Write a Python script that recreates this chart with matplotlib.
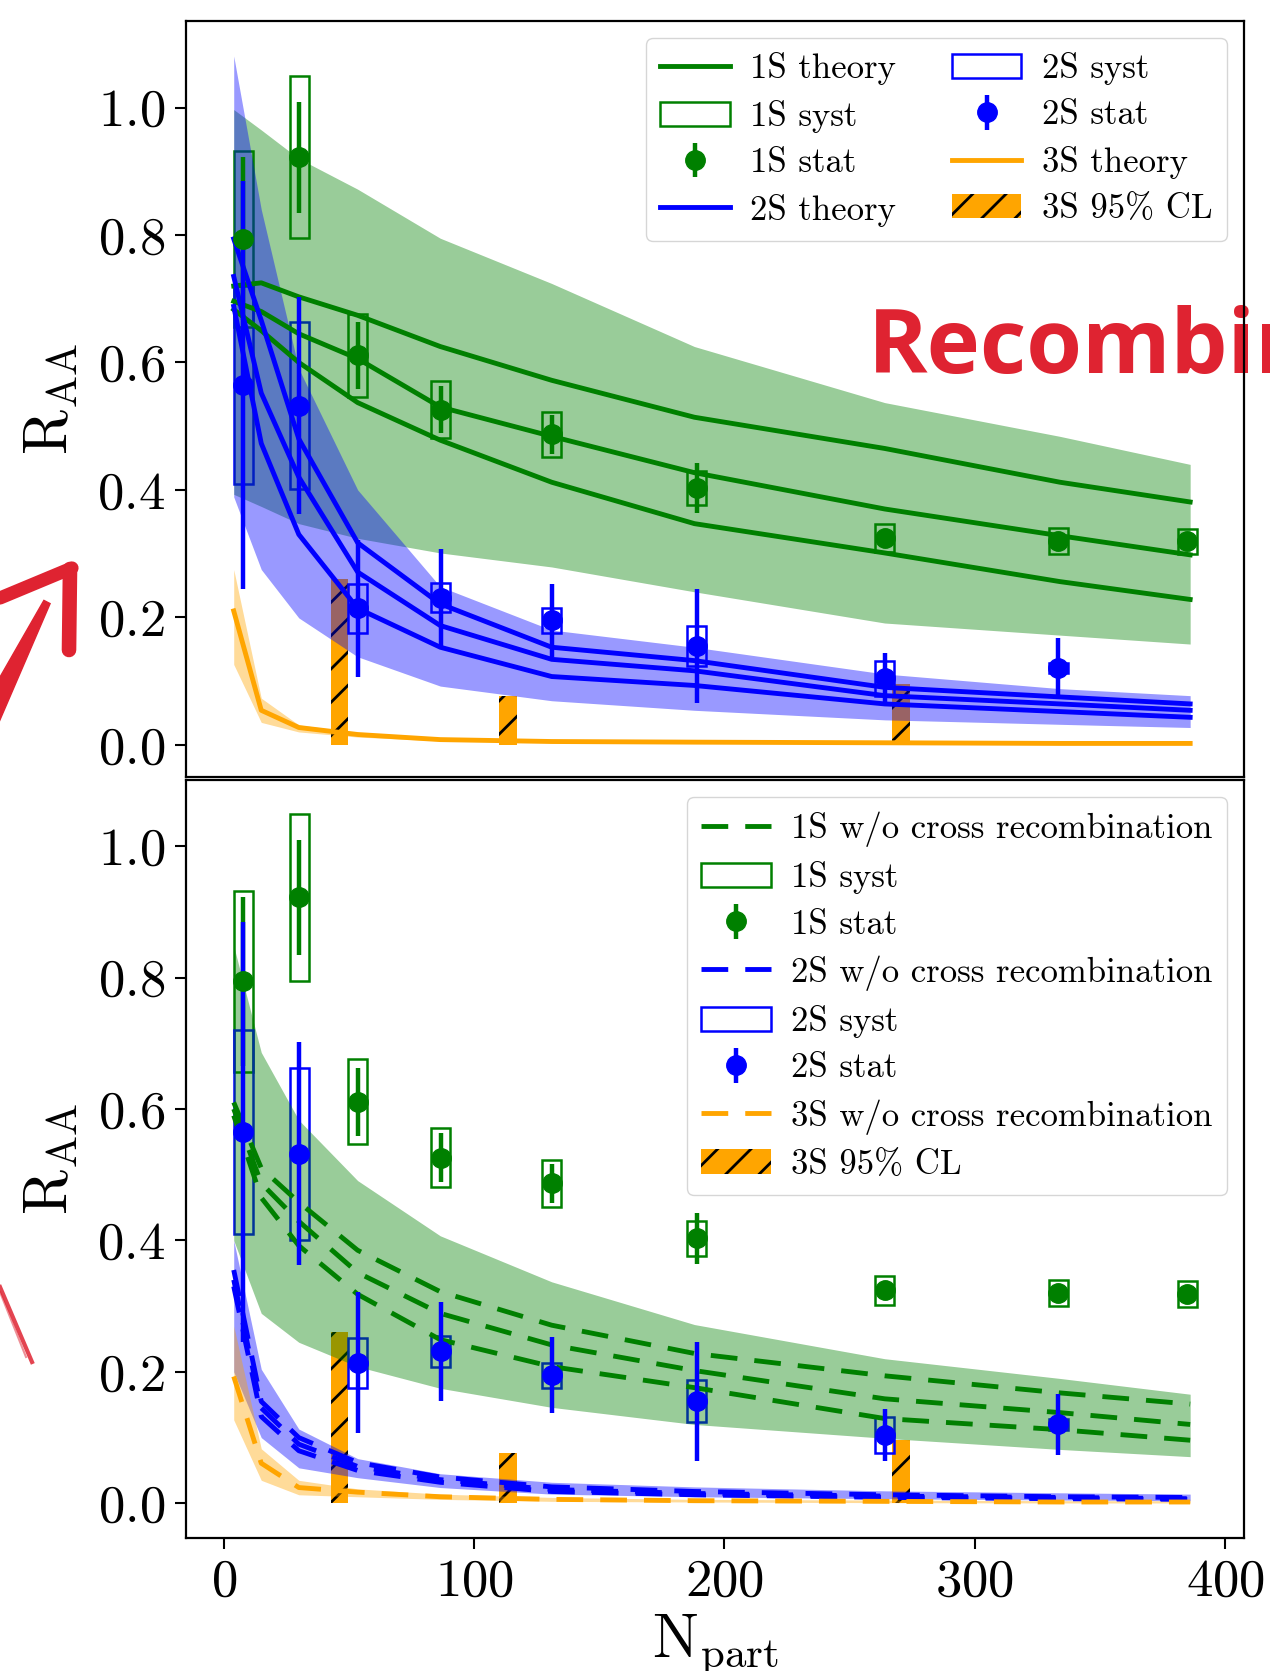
import matplotlib
matplotlib.use('Agg')
import matplotlib.pyplot as plt
from matplotlib.lines import Line2D
from matplotlib.patches import Polygon

plt.rcParams['font.family'] = 'cmr10'
plt.rcParams['mathtext.fontset'] = 'cm'
plt.rcParams['axes.formatter.use_mathtext'] = True
plt.rcParams['hatch.linewidth'] = 2.0

# measured points
npart_1s = [7.8, 30.2, 53.5, 86.7, 131.0, 189.0, 264.1, 333.4, 384.8]
raa_1s = [0.794, 0.922, 0.611, 0.526, 0.487, 0.403, 0.324, 0.320, 0.319]
stat_1s = [0.128, 0.087, 0.052, 0.037, 0.030, 0.039, 0.015, 0.012, 0.012]
syst_1s = [0.138, 0.127, 0.065, 0.045, 0.036, 0.027, 0.022, 0.020, 0.020]

npart_2s = [7.8, 30.2, 53.5, 86.7, 131.0, 189.0, 264.1, 333.4]
raa_2s = [0.565, 0.532, 0.214, 0.231, 0.195, 0.155, 0.104, 0.120]
stat_2s = [0.32, 0.17, 0.107, 0.076, 0.058, 0.09, 0.04, 0.047]
syst_2s = [0.155, 0.131, 0.038, 0.023, 0.019, 0.032, 0.027, 0.008]

npart_3s = [46.2, 113.5, 270.6]
cl_3s = [0.26, 0.077, 0.096]

# theory grid
npart_th = [4, 15, 30, 53.5, 86.5, 131, 188, 264, 334, 386]

# top panel: with cross recombination
th1s_a = [0.720, 0.725, 0.703, 0.674, 0.625, 0.572, 0.514, 0.465, 0.412, 0.381]
th1s_b = [0.696, 0.680, 0.645, 0.606, 0.530, 0.484, 0.427, 0.370, 0.328, 0.298]
th1s_c = [0.683, 0.650, 0.600, 0.537, 0.478, 0.412, 0.347, 0.301, 0.256, 0.228]
band1s_hi = [0.997, 0.965, 0.920, 0.872, 0.795, 0.724, 0.625, 0.537, 0.484, 0.440]
band1s_lo = [0.393, 0.374, 0.347, 0.324, 0.301, 0.279, 0.240, 0.191, 0.172, 0.158]

th2s_a = [0.794, 0.666, 0.480, 0.317, 0.221, 0.153, 0.132, 0.090, 0.075, 0.064]
th2s_b = [0.735, 0.552, 0.420, 0.271, 0.187, 0.134, 0.116, 0.077, 0.064, 0.054]
th2s_c = [0.688, 0.473, 0.330, 0.214, 0.153, 0.107, 0.093, 0.064, 0.052, 0.043]
band2s_hi = [1.081, 0.840, 0.590, 0.400, 0.248, 0.180, 0.153, 0.111, 0.088, 0.077]
band2s_lo = [0.389, 0.275, 0.199, 0.138, 0.092, 0.069, 0.054, 0.039, 0.032, 0.027]

th3s = [0.210, 0.054, 0.027, 0.016, 0.008, 0.005, 0.004, 0.003, 0.002, 0.002]
band3s_hi = [0.275, 0.073, 0.031, 0.019, 0.010, 0.007, 0.005, 0.004, 0.003, 0.003]
band3s_lo = [0.126, 0.035, 0.020, 0.012, 0.006, 0.004, 0.003, 0.002, 0.001, 0.001]

# bottom panel: without cross recombination
nr1s_a = [0.610, 0.510, 0.458, 0.385, 0.322, 0.271, 0.228, 0.194, 0.168, 0.151]
nr1s_b = [0.600, 0.487, 0.429, 0.351, 0.289, 0.241, 0.202, 0.159, 0.138, 0.120]
nr1s_c = [0.590, 0.465, 0.392, 0.318, 0.249, 0.208, 0.176, 0.129, 0.112, 0.096]
nrband1s_hi = [0.848, 0.686, 0.583, 0.491, 0.407, 0.337, 0.272, 0.220, 0.190, 0.166]
nrband1s_lo = [0.400, 0.289, 0.245, 0.208, 0.175, 0.146, 0.120, 0.099, 0.082, 0.071]

nr2s_a = [0.355, 0.155, 0.100, 0.062, 0.040, 0.025, 0.018, 0.013, 0.010, 0.009]
nr2s_b = [0.340, 0.145, 0.090, 0.056, 0.036, 0.021, 0.015, 0.011, 0.009, 0.007]
nr2s_c = [0.330, 0.132, 0.080, 0.050, 0.032, 0.018, 0.013, 0.009, 0.007, 0.006]
nrband2s_hi = [0.400, 0.204, 0.113, 0.068, 0.045, 0.032, 0.025, 0.019, 0.016, 0.014]
nrband2s_lo = [0.200, 0.100, 0.054, 0.039, 0.024, 0.014, 0.010, 0.007, 0.005, 0.004]

nr3s = [0.193, 0.061, 0.024, 0.017, 0.010, 0.006, 0.004, 0.003, 0.002, 0.002]
nrband3s_hi = [0.270, 0.083, 0.035, 0.022, 0.014, 0.009, 0.006, 0.005, 0.004, 0.004]
nrband3s_lo = [0.127, 0.035, 0.013, 0.010, 0.006, 0.003, 0.002, 0.001, 0.0005, 0.0005]

W, H = 1270, 1671
fig = plt.figure(figsize=(W / 100, H / 100), dpi=100)
ax1 = fig.add_axes([186 / W, 1 - 777 / H, 1058 / W, 756 / H])
ax2 = fig.add_axes([186 / W, 1 - 1537.5 / H, 1058 / W, 757.5 / H])

box_w = 7.6


def draw_data(ax):
    ax.bar(npart_3s, cl_3s, width=7.0, color='orange', edgecolor='black',
           linewidth=0, hatch='/', zorder=1, label='3S 95% CL')
    s1 = ax.bar(npart_1s, [2 * e for e in syst_1s],
                bottom=[v - e for v, e in zip(raa_1s, syst_1s)], width=box_w,
                fill=False, edgecolor='green', linewidth=1.8, zorder=1, label='1S syst')
    s2 = ax.bar(npart_2s, [2 * e for e in syst_2s],
                bottom=[v - e for v, e in zip(raa_2s, syst_2s)], width=box_w,
                fill=False, edgecolor='blue', linewidth=1.8, zorder=1, label='2S syst')
    e1 = ax.errorbar(npart_1s, raa_1s, yerr=stat_1s, fmt='o', color='green', ms=14,
                     elinewidth=3.2, capsize=0, zorder=5, label='1S stat')
    e2 = ax.errorbar(npart_2s, raa_2s, yerr=stat_2s, fmt='o', color='blue', ms=14,
                     elinewidth=3.2, capsize=0, zorder=5, label='2S stat')
    return s1, s2, e1, e2


def style(ax, ylim):
    ax.set_xlim(-15.06, 407.5)
    ax.set_ylim(*ylim)
    ax.set_yticks([0.0, 0.2, 0.4, 0.6, 0.8, 1.0])
    ax.set_xticks([0, 100, 200, 300, 400])
    ax.tick_params(labelsize=38, length=8, width=1.5, pad=7)
    for sp in ax.spines.values():
        sp.set_linewidth(1.6)
    ax.set_ylabel(r'$\mathrm{R}_{\mathrm{AA}}$', fontsize=44)
    ax.yaxis.set_label_coords(-0.100, 0.5)


leg_kw = dict(loc='upper right', fontsize=25, handletextpad=0.6, labelspacing=0.42)

# ---- top panel
s1, s2, e1, e2 = draw_data(ax1)
ax1.fill_between(npart_th, band1s_lo, band1s_hi, color='green', alpha=0.4, lw=0, zorder=2)
ax1.fill_between(npart_th, band2s_lo, band2s_hi, color='blue', alpha=0.4, lw=0, zorder=2)
ax1.fill_between(npart_th, band3s_lo, band3s_hi, color='orange', alpha=0.4, lw=0, zorder=2)
l1 = ax1.plot(npart_th, th1s_a, color='green', lw=3.5, zorder=3, label='1S theory')[0]
ax1.plot(npart_th, th1s_b, color='green', lw=3.5, zorder=3)
ax1.plot(npart_th, th1s_c, color='green', lw=3.5, zorder=3)
l2 = ax1.plot(npart_th, th2s_a, color='blue', lw=3.5, zorder=3, label='2S theory')[0]
ax1.plot(npart_th, th2s_b, color='blue', lw=3.5, zorder=3)
ax1.plot(npart_th, th2s_c, color='blue', lw=3.5, zorder=3)
l3 = ax1.plot(npart_th, th3s, color='orange', lw=3.5, zorder=3, label='3S theory')[0]
cl = ax1.containers[0]
style(ax1, (-0.0507, 1.136))
ax1.tick_params(axis='x', bottom=False, labelbottom=False)
ax1.legend([l1, s1, e1, l2, s2, e2, l3, cl],
           ['1S theory', '1S syst', '1S stat', '2S theory',
            '2S syst', '2S stat', '3S theory', '3S 95% CL'],
           ncol=2, columnspacing=1.6, **leg_kw)

# ---- bottom panel
s1, s2, e1, e2 = draw_data(ax2)
ax2.fill_between(npart_th, nrband1s_lo, nrband1s_hi, color='green', alpha=0.4, lw=0, zorder=2)
ax2.fill_between(npart_th, nrband2s_lo, nrband2s_hi, color='blue', alpha=0.4, lw=0, zorder=2)
ax2.fill_between(npart_th, nrband3s_lo, nrband3s_hi, color='orange', alpha=0.4, lw=0, zorder=2)
dash = (5.5, 3.5)
d1 = ax2.plot(npart_th, nr1s_a, color='green', lw=3.5, dashes=dash, zorder=3)[0]
ax2.plot(npart_th, nr1s_b, color='green', lw=3.5, dashes=dash, zorder=3)
ax2.plot(npart_th, nr1s_c, color='green', lw=3.5, dashes=dash, zorder=3)
d2 = ax2.plot(npart_th, nr2s_a, color='blue', lw=3.5, dashes=dash, zorder=3)[0]
ax2.plot(npart_th, nr2s_b, color='blue', lw=3.5, dashes=dash, zorder=3)
ax2.plot(npart_th, nr2s_c, color='blue', lw=3.5, dashes=dash, zorder=3)
d3 = ax2.plot(npart_th, nr3s, color='orange', lw=3.5, dashes=dash, zorder=3)[0]
cl = ax2.containers[0]
style(ax2, (-0.052, 1.1005))
ax2.set_xlabel(r'$\mathrm{N}_{\mathrm{part}}$', fontsize=44)
ax2.xaxis.set_label_coords(0.5, -0.099)
ax2.legend([d1, s1, e1, d2, s2, e2, d3, cl],
           ['1S w/o cross recombination', '1S syst', '1S stat',
            '2S w/o cross recombination', '2S syst', '2S stat',
            '3S w/o cross recombination', '3S 95% CL'], **leg_kw)

# ---- red annotations pasted on top of the figure
red = '#DF2331'


def fp(px, py):
    return px / W, 1 - py / H


ax1.text(*fp(868, 373), 'Recombination', transform=fig.transFigure,
         fontsize=65, fontfamily='Open Sans', fontweight='bold', color=red,
         va='baseline', ha='left', clip_on=False, zorder=2.4)

shaft = [fp(-21.8, 715.1), fp(43.9, 600.4), fp(50.1, 603.6), fp(-2.2, 724.9)]
fig.add_artist(Polygon(shaft, closed=True, color=red, transform=fig.transFigure))
for xs, ys, lw in [([0, 72], [598, 568], 9.5), ([70, 69], [569, 650], 10.5)]:
    pts = [fp(x, y) for x, y in zip(xs, ys)]
    fig.add_artist(Line2D([p[0] for p in pts], [p[1] for p in pts], color=red, lw=lw,
                          solid_capstyle='round', transform=fig.transFigure))
for xs, ys, lw, a in [([0, 32], [1287, 1362], 3.0, 0.85), ([0, 26], [1292, 1357], 1.5, 0.5)]:
    pts = [fp(x, y) for x, y in zip(xs, ys)]
    fig.add_artist(Line2D([p[0] for p in pts], [p[1] for p in pts], color=red, lw=lw,
                          alpha=a, transform=fig.transFigure))

fig.savefig('out.png', dpi=100)
